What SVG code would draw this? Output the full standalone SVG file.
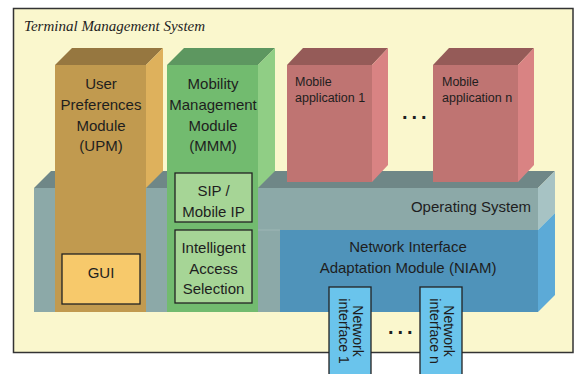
<svg xmlns="http://www.w3.org/2000/svg" width="574" height="374" viewBox="0 0 574 374">
  <style>
    .lbl { font-family: "Liberation Sans", Arial, sans-serif; font-size: 15px; fill: #1e1e1e; text-anchor: middle; }
    .small { font-size: 12.5px; text-anchor: start; }
    .netif { font-size: 14px; }
    .os-lbl { text-anchor: end; }
    .dots { font-family: "Liberation Sans", Arial, sans-serif; font-size: 20px; font-weight: bold; fill: #1e1e1e; letter-spacing: 4px; }
    .title { font-family: "Liberation Serif", "Times New Roman", serif; font-style: italic; font-size: 15px; fill: #1e1e1e; }
    .sub { stroke: #222; stroke-width: 1.3; }
    .upm-front { fill: #C19A4F; } .upm-top { fill: #967740; } .upm-side { fill: #DEB15C; }
    .mmm-front { fill: #72BB6F; } .mmm-top { fill: #5D9760; } .mmm-side { fill: #90CE85; }
    .app-front { fill: #BF7472; } .app-top { fill: #955B58; } .app-side { fill: #D98383; }
    .os-front { fill: #8CA9A8; } .os-top { fill: #6F8787; } .os-side { fill: #A7C3C4; }
    .niam-front { fill: #4F93BA; } .niam-side { fill: #5CAAD7; }
  </style>

  <rect width="574" height="374" fill="#ffffff"/>

  <!-- outer container -->
  <g id="terminal-management-system">
    <rect x="13.5" y="8.5" width="559.5" height="344" fill="#FAF7CD" stroke="#333" stroke-width="1.5"/>
    <text class="title" x="24" y="31">Terminal Management System</text>
  </g>

  <!-- operating system slab (back layer) -->
  <g id="operating-system">
    <polygon class="os-top" points="34,188 51,171 555,171 538,188"/>
    <rect class="os-front" x="34" y="188" width="504" height="42"/>
    <rect class="os-front" x="34" y="230" width="246" height="82"/>
    <line x1="258" y1="230" x2="280" y2="230" stroke="#9DB6B5" stroke-width="1"/>
    <polygon class="os-side" points="538,188 555,171 555,213 538,230"/>
    <text class="lbl os-lbl" x="531" y="212">Operating System</text>
  </g>

  <g id="niam">
    <rect class="niam-front" x="280" y="230" width="258" height="82"/>
    <polygon class="niam-side" points="538,230 555,213 555,295 538,312"/>
    <text class="lbl" x="408" y="252">Network Interface</text>
    <text class="lbl" x="408" y="273">Adaptation Module (NIAM)</text>
  </g>

  <!-- mobile applications standing on the slab -->
  <g id="mobile-app-1">
    <polygon class="app-top" points="287,65 303,48 388,48 372,65"/>
    <polygon class="app-side" points="372,65 388,48 388,165 372,182"/>
    <rect class="app-front" x="287" y="65" width="85" height="117"/>
    <text class="lbl small" x="295" y="86">Mobile</text>
    <text class="lbl small" x="295" y="102">application 1</text>
  </g>

  <text class="dots" x="402" y="119">...</text>

  <g id="mobile-app-n">
    <polygon class="app-top" points="433,65 449,48 534,48 518,65"/>
    <polygon class="app-side" points="518,65 534,48 534,165 518,182"/>
    <rect class="app-front" x="433" y="65" width="85" height="117"/>
    <text class="lbl small" x="442" y="86">Mobile</text>
    <text class="lbl small" x="442" y="102">application n</text>
  </g>

  <!-- user preferences module -->
  <g id="upm">
    <polygon class="upm-top" points="55,65 72,48 163,48 146,65"/>
    <polygon class="upm-side" points="146,65 163,48 163,171 146,188"/>
    <rect class="upm-front" x="55" y="65" width="91" height="247"/>
    <text class="lbl" x="101" y="89">User</text>
    <text class="lbl" x="101" y="110">Preferences</text>
    <text class="lbl" x="101" y="131">Module</text>
    <text class="lbl" x="101" y="151">(UPM)</text>
  </g>

  <g id="gui">
    <rect class="sub" x="62" y="254" width="78" height="50" fill="#F7C96B"/>
    <text class="lbl" x="101" y="278">GUI</text>
  </g>

  <!-- mobility management module -->
  <g id="mmm">
    <polygon class="mmm-top" points="167,65 184,48 275,48 258,65"/>
    <polygon class="mmm-side" points="258,65 275,48 275,171 258,188"/>
    <rect class="mmm-front" x="167" y="65" width="91" height="247"/>
    <text class="lbl" x="213" y="89">Mobility</text>
    <text class="lbl" x="213" y="110">Management</text>
    <text class="lbl" x="213" y="131">Module</text>
    <text class="lbl" x="213" y="151">(MMM)</text>
  </g>

  <g id="sip-mobile-ip">
    <rect class="sub" x="175" y="173" width="77" height="49" fill="#A6D596"/>
    <text class="lbl" x="213.5" y="196">SIP /</text>
    <text class="lbl" x="213.5" y="217">Mobile IP</text>
  </g>

  <g id="intelligent-access-selection">
    <rect class="sub" x="175" y="230" width="77" height="73" fill="#A6D596"/>
    <text class="lbl" x="213.5" y="253">Intelligent</text>
    <text class="lbl" x="213.5" y="274">Access</text>
    <text class="lbl" x="213.5" y="294">Selection</text>
  </g>

  <!-- network interfaces, text runs top to bottom -->
  <g id="network-interface-1">
    <rect class="sub" x="329" y="287" width="42" height="92" fill="#6AC4EC"/>
    <g transform="translate(350 331) rotate(90)">
      <text class="lbl netif" x="0" y="-2.5">Network</text>
      <text class="lbl netif" x="0" y="11">interface 1</text>
    </g>
  </g>

  <text class="dots" x="388" y="334">...</text>

  <g id="network-interface-n">
    <rect class="sub" x="420" y="287" width="42" height="92" fill="#6AC4EC"/>
    <g transform="translate(441 331) rotate(90)">
      <text class="lbl netif" x="0" y="-2.5">Network</text>
      <text class="lbl netif" x="0" y="11">interface n</text>
    </g>
  </g>

  <!-- the blocks are stacked, not linked -->
  <g id="connectors"></g>
</svg>
